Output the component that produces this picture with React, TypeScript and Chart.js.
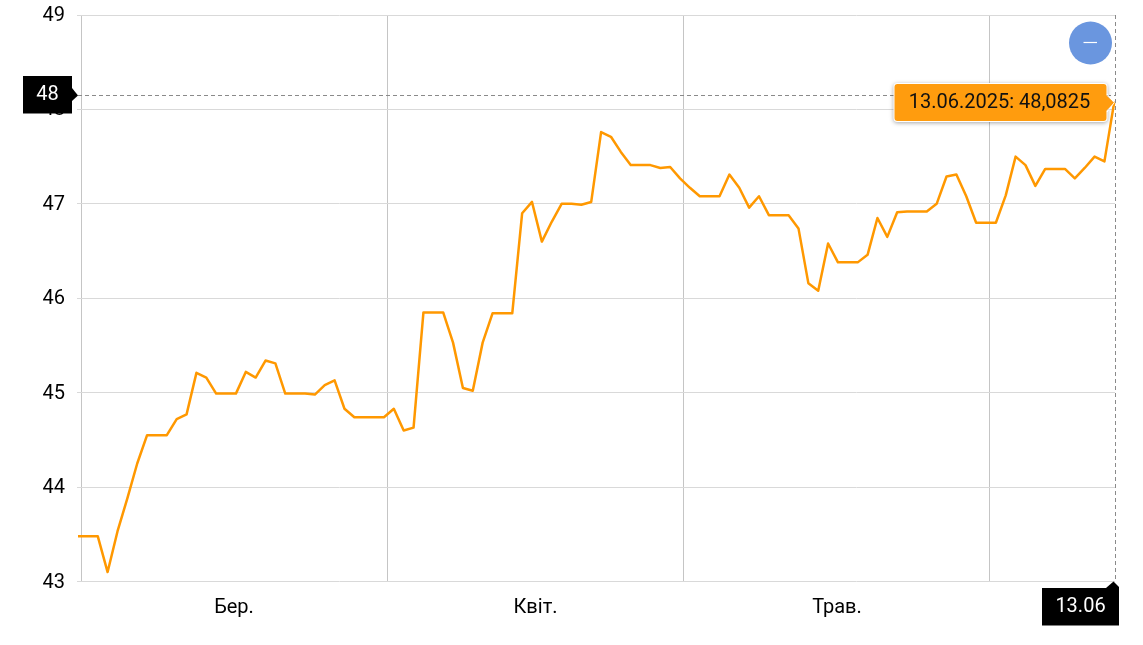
import React, { useEffect, useRef } from "react";
import { Chart, registerables } from "chart.js";

Chart.register(...registerables);

const rates = [
  43.48, 43.48, 43.48, 43.1, 43.53, 43.88, 44.25, 44.55, 44.55, 44.55,
  44.72, 44.77, 45.21, 45.16, 44.99, 44.99, 44.99, 45.22, 45.16, 45.34,
  45.31, 44.99, 44.99, 44.99, 44.98, 45.08, 45.13, 44.83, 44.74, 44.74,
  44.74, 44.74, 44.83, 44.6, 44.63, 45.85, 45.85, 45.85, 45.53, 45.05,
  45.02, 45.53, 45.84, 45.84, 45.84, 46.9, 47.02, 46.6, 46.81, 47.0,
  47.0, 46.99, 47.02, 47.76, 47.71, 47.55, 47.41, 47.41, 47.41, 47.38,
  47.39, 47.27, 47.17, 47.08, 47.08, 47.08, 47.31, 47.17, 46.96, 47.08,
  46.88, 46.88, 46.88, 46.74, 46.16, 46.08, 46.58, 46.38, 46.38, 46.38,
  46.46, 46.85, 46.65, 46.91, 46.92, 46.92, 46.92, 47.0, 47.29, 47.31,
  47.08, 46.8, 46.8, 46.8, 47.09, 47.5, 47.41, 47.19, 47.37, 47.37,
  47.37, 47.27, 47.38, 47.5, 47.45, 48.0825,
];
const monthLabels = ["Бер.", "Квіт.", "Трав."];
const monthEdges = [0.304, 31.31, 61.4, 92.4];
const xMin = 0.304;
const xMax = 105.07;
const yTicks = [43, 44, 45, 46, 47, 48, 49];
const crosshairValue = 48.153;
const crosshairAxisLabel = "48";
const crosshairDateLabel = "13.06";
const tooltipText = "13.06.2025: 48,0825";

const FONT = "20px Roboto";

const overlay = {
  id: "overlay",
  afterDraw(chart: any) {
    const { ctx, scales } = chart;
    const lastIndex = rates.length - 1;
    const px = scales.x.getPixelForValue(lastIndex);
    const py = scales.y.getPixelForValue(rates[lastIndex]);
    const cy = Math.round(scales.y.getPixelForValue(crosshairValue)) + 0.5;
    const cx = 1115.5;
    ctx.save();

    // crosshair
    ctx.strokeStyle = "#8a8a8a";
    ctx.lineWidth = 1;
    ctx.setLineDash([4, 3]);
    ctx.beginPath();
    ctx.moveTo(78, cy);
    ctx.lineTo(cx, cy);
    ctx.moveTo(cx, 15);
    ctx.lineTo(cx, 582);
    ctx.stroke();
    ctx.setLineDash([]);

    // zoom button
    ctx.fillStyle = "#6a96df";
    ctx.beginPath();
    ctx.arc(1090.5, 43, 21.5, 0, Math.PI * 2);
    ctx.fill();
    ctx.strokeStyle = "#ffffff";
    ctx.lineWidth = 1.2;
    ctx.beginPath();
    ctx.moveTo(1083.5, 42.5);
    ctx.lineTo(1097, 42.5);
    ctx.stroke();

    // y label
    ctx.fillStyle = "#000000";
    ctx.fillRect(23, 76, 49, 37.5);
    ctx.beginPath();
    ctx.moveTo(72, 88);
    ctx.lineTo(78, cy);
    ctx.lineTo(72, 101);
    ctx.closePath();
    ctx.fill();

    // x label
    ctx.fillRect(1042, 588, 77, 37.5);
    ctx.beginPath();
    ctx.moveTo(1106, 588);
    ctx.lineTo(1113.5, 581.5);
    ctx.lineTo(1119, 587);
    ctx.lineTo(1119, 588);
    ctx.closePath();
    ctx.fill();

    ctx.font = FONT;
    ctx.fillStyle = "#ffffff";
    ctx.textAlign = "center";
    ctx.textBaseline = "middle";
    ctx.fillText(crosshairAxisLabel, 47.5, 94.5);
    ctx.fillText(crosshairDateLabel, 1080.5, 606.5);

    // tooltip
    const tx = 894.5;
    const ty = 84;
    const tw = 212;
    const th = 37;
    ctx.save();
    ctx.shadowColor = "rgba(0,0,0,0.35)";
    ctx.shadowBlur = 4;
    ctx.shadowOffsetY = 1;
    ctx.fillStyle = "#ffffff";
    ctx.beginPath();
    ctx.roundRect(tx - 1, ty - 1, tw + 2, th + 2, 4);
    ctx.fill();
    ctx.restore();
    ctx.fillStyle = "#ff9c0e";
    ctx.beginPath();
    ctx.roundRect(tx, ty, tw, th, 3);
    ctx.fill();
    ctx.beginPath();
    ctx.moveTo(tx + tw - 0.5, 95);
    ctx.lineTo(px, py + 1);
    ctx.lineTo(tx + tw - 0.5, 111);
    ctx.closePath();
    ctx.fill();
    ctx.strokeStyle = "#ffffff";
    ctx.lineWidth = 1;
    ctx.beginPath();
    ctx.moveTo(tx + tw + 0.5, 94);
    ctx.lineTo(px, py + 1);
    ctx.lineTo(tx + tw + 0.5, 112);
    ctx.stroke();
    ctx.fillStyle = "#111111";
    ctx.fillText(tooltipText, tx + tw / 2 - 1, ty + th / 2 + 0.5);

    ctx.restore();
  },
};

export default function App() {
  const ref = useRef<HTMLCanvasElement>(null);
  useEffect(() => {
    document.body.style.margin = "0";
    document.body.style.background = "#ffffff";
    const chart = new Chart(ref.current as HTMLCanvasElement, {
      type: "line",
      data: {
        datasets: [
          {
            data: rates.map((y, i) => ({ x: i, y })),
            borderColor: "#ff9800",
            borderWidth: 2.5,
            borderJoinStyle: "round",
            pointRadius: 0,
            tension: 0,
            clip: false,
          } as any,
        ],
      },
      options: {
        animation: false,
        responsive: false,
        parsing: false,
        layout: { padding: { top: 15, right: 28, left: 0, bottom: 0 } },
        plugins: { legend: { display: false }, tooltip: { enabled: false } },
        scales: {
          x: {
            type: "linear",
            min: xMin,
            max: xMax,
            afterBuildTicks(scale: any) {
              const t: any[] = [];
              monthEdges.forEach((e, i) => {
                t.push({ value: e });
                if (i < monthLabels.length) t.push({ value: (e + monthEdges[i + 1]) / 2 });
              });
              scale.ticks = t;
            },
            afterFit(scale: any) {
              scale.height = 63.5;
              scale.paddingLeft = 0;
              scale.paddingRight = 0;
            },
            grid: {
              drawTicks: false,
              color: (c: any) =>
                monthEdges.includes(c.tick?.value) ? "rgba(110,110,110,0.4)" : "transparent",
            },
            border: { display: false },
            ticks: {
              autoSkip: false,
              maxRotation: 0,
              padding: 14,
              color: "#000000",
              font: { family: "Roboto", size: 20 },
              callback: (_v: any, i: number) => (i % 2 === 1 ? monthLabels[(i - 1) / 2] : ""),
            },
          },
          y: {
            min: 43,
            max: 49,
            afterBuildTicks(scale: any) {
              scale.ticks = yTicks.map((value) => ({ value }));
            },
            afterFit(scale: any) {
              scale.width = 81;
              scale.paddingTop = 0;
              scale.paddingBottom = 0;
            },
            grid: { color: "#d9d9d9", tickLength: 4 },
            border: { display: false },
            ticks: {
              padding: 12,
              labelOffset: 1,
              color: "#000000",
              font: { family: "Roboto", size: 20 },
            },
          },
        },
      },
      plugins: [overlay],
    } as any);
    return () => chart.destroy();
  }, []);
  return (
    <div style={{ position: "absolute", left: 0, top: 0, width: 1143, height: 645 }}>
      <canvas ref={ref} width={1143} height={645} style={{ display: "block" }} />
    </div>
  );
}
